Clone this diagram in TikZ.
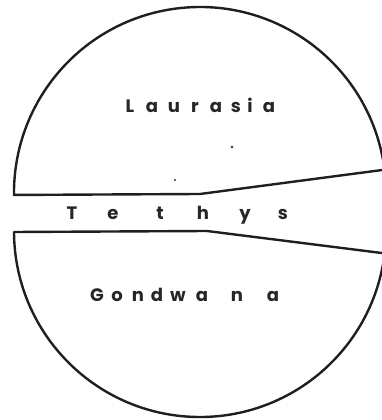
\documentclass[tikz,border=0pt]{standalone}
\usepackage{fontspec}
\setmainfont{Poppins}
\begin{document}
\begin{tikzpicture}[x=1pt,y=1pt,
  outline/.style={line width=2.4pt, line join=round, line cap=round, draw=black!88},
  lbl/.style={inner sep=0pt, anchor=base, font=\fontsize{18}{18}\selectfont\bfseries, text=black!85},
  speck/.style={fill=black!80}]
\useasboundingbox (0,0) rectangle (382,420);
\clip (0,0) rectangle (382,420);
% upper block (Laurasia)
\coordinate (UL) at (14,225);
\coordinate (UK) at (200,226);
\coordinate (UR) at (384.5,250.3);
\draw[outline] (UR) arc[start angle=7.2, end angle=180.6, radius=186] -- (UK) -- (UR);
% lower block (Gondwana)
\coordinate (LL) at (14,188);
\coordinate (LK) at (207,189);
\coordinate (LR) at (384.7,166.7);
\draw[outline] (LL) arc[start angle=180.3, end angle=353.1, radius=186] -- (LK) -- (LL);
% specks
\fill[speck] (232,273) circle (1.3pt);
\fill[speck] (175,240) circle (1.1pt);
% labels
\foreach \x/\c [count=\i] in {130/L,152/a,174/u,195/r,216/a,236/s,250/i,269/a}
  \node[lbl] (la\i) at (\x,307) {\c};
\foreach \x/\c [count=\i] in {72/T,113/e,160/t,203/h,245/y,283/s}
  \node[lbl] (te\i) at (\x,200) {\c};
\foreach \x/\c [count=\i] in {97/G,117/o,138/n,157/d,178/w,202/a,237/n,273/a}
  \node[lbl] (go\i) at (\x,118) {\c};
\end{tikzpicture}
\end{document}
